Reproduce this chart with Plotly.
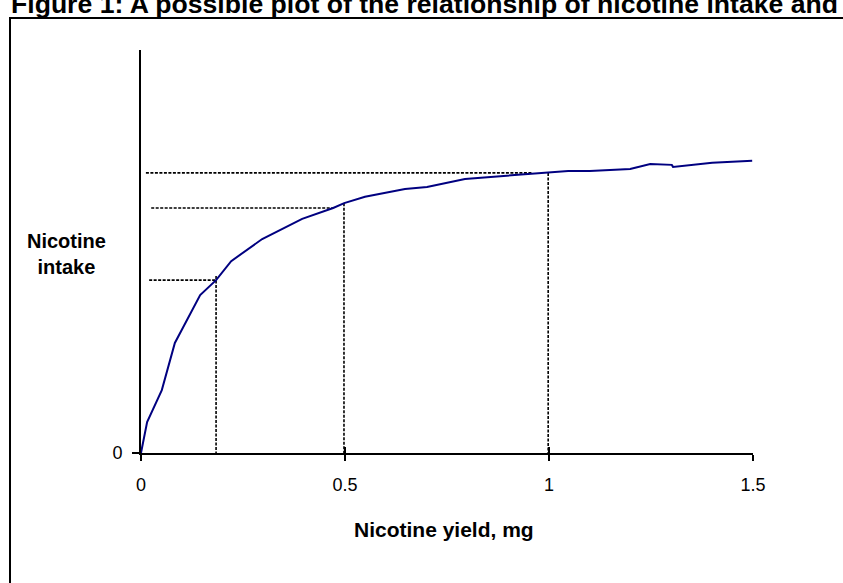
import plotly.graph_objects as go

# Data (arbitrary intake units, 0..1 on the y axis)
nicotine_yield = [0, 0.015, 0.051, 0.083, 0.145, 0.184, 0.221, 0.297, 0.395, 0.471,
                  0.498, 0.549, 0.647, 0.701, 0.794, 0.998, 1.047, 1.100, 1.199,
                  1.248, 1.301, 1.304, 1.400, 1.498]
nicotine_intake = [0, 0.077, 0.156, 0.273, 0.392, 0.429, 0.476, 0.531, 0.581, 0.608,
                   0.620, 0.636, 0.655, 0.660, 0.680, 0.695, 0.700, 0.700, 0.705,
                   0.717, 0.715, 0.710, 0.720, 0.725]

# Reference (dotted) guide lines: yield value, intake level, horizontal start/end
guide_x = [0.184, 0.4975, 0.998]
guide_y = [0.429, 0.608, 0.695]
guide_h_start = [0.020, 0.025, 0.012]
guide_h_end = [0.184, 0.471, 0.958]
guide_v_top = [0.439, 0.620, 0.695]

x_tickvals = [0, 0.5, 1, 1.5]
x_ticktext = ["0", "0.5", "1", "1.5"]

title_text = "Figure 1: A possible plot of the relationship of nicotine intake and yield"
x_title = "Nicotine yield, mg"
y_title = "Nicotine<br>intake"

FONT = "Liberation Sans, Arial, sans-serif"
W, H = 843, 583
L, R, T, B = 141, 90, 50, 130
PW, PH = W - L - R, H - T - B


def px(xp):
    return (xp - L) / PW


def py(yp):
    return (H - B - yp) / PH


fig = go.Figure()

for gx, gy, hs, he, vt in zip(guide_x, guide_y, guide_h_start, guide_h_end, guide_v_top):
    fig.add_trace(go.Scatter(x=[hs, he], y=[gy, gy], mode="lines",
                             line=dict(color="black", width=1.6, dash="3px,1.5px"),
                             showlegend=False, hoverinfo="skip"))
    fig.add_trace(go.Scatter(x=[gx, gx], y=[vt, 0], mode="lines",
                             line=dict(color="black", width=1.6, dash="3px,1.5px"),
                             showlegend=False, hoverinfo="skip"))

fig.add_trace(go.Scatter(x=nicotine_yield, y=nicotine_intake, mode="lines",
                         line=dict(color="#000080", width=2),
                         showlegend=False))

# invisible trace for the overlay axis (inside half of crossing ticks)
fig.add_trace(go.Scatter(x=[0, 1.5], y=[0, 0], xaxis="x2", mode="lines",
                         line=dict(width=0), opacity=0, showlegend=False,
                         hoverinfo="skip"))

fig.update_layout(
    width=W, height=H,
    margin=dict(l=L, r=R, t=T, b=B),
    paper_bgcolor="white", plot_bgcolor="white",
    font=dict(family=FONT, color="black", size=18),
    xaxis=dict(range=[0, 1.5], showline=True, linecolor="black", linewidth=1.6,
               ticks="outside", ticklen=6, tickwidth=1.6, tickcolor="black",
               tickvals=x_tickvals, ticktext=x_ticktext, showgrid=False,
               zeroline=False, tickfont=dict(size=18), ticklabelstandoff=9),
    xaxis2=dict(range=[0, 1.5], overlaying="x", anchor="y", side="bottom",
                showline=False, ticks="inside", ticklen=6, tickwidth=1.6,
                tickcolor="black", tickvals=x_tickvals, showticklabels=False,
                showgrid=False, zeroline=False),
    yaxis=dict(range=[0, 1], showline=True, linecolor="black", linewidth=1.6,
               ticks="outside", ticklen=7, tickwidth=1.6, tickcolor="black",
               tickvals=[0], ticktext=["0"], showgrid=False, zeroline=False,
               tickfont=dict(size=18), ticklabelstandoff=6),
)

# title, partly cut by the top edge as in the original
fig.add_annotation(text="<b>" + title_text + "</b>", xref="paper", yref="paper",
                   x=px(9), y=py(4), xanchor="left", yanchor="middle",
                   showarrow=False, font=dict(size=26.6, family=FONT))

fig.add_annotation(text="<b>" + x_title + "</b>", xref="paper", yref="paper",
                   x=px(444), y=py(529), xanchor="center", yanchor="middle",
                   showarrow=False, font=dict(size=21, family=FONT))

fig.add_annotation(text="<b>" + y_title + "</b>", xref="paper", yref="paper",
                   x=px(66), y=py(254), xanchor="center", yanchor="middle",
                   showarrow=False, font=dict(size=20, family=FONT), align="center")

# frame around the figure
fig.add_shape(type="rect", xref="paper", yref="paper",
              x0=px(10), x1=px(870), y0=py(620), y1=py(18),
              line=dict(color="black", width=2), fillcolor="rgba(0,0,0,0)",
              layer="below")

fig.write_html("out.html", config={"displayModeBar": False},
               post_script="document.body.style.margin='0';")
